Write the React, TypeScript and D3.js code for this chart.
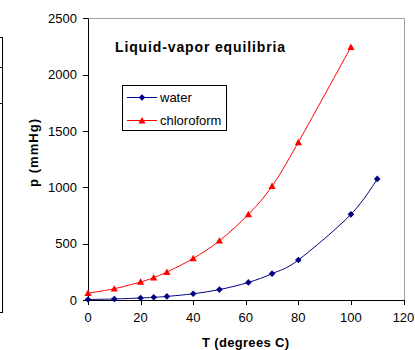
import React from "react";
import * as d3 from "d3";

const waterT = [0, 10, 20, 25, 30, 40, 50, 61, 70, 80, 100, 110];
const waterP = [4.6, 9.2, 17.5, 23.8, 31.8, 55.3, 92.5, 156, 233.7, 355.1, 760, 1074.6];
const chloroT = [0, 10, 20, 25, 30, 40, 50, 61, 70, 80, 100];
const chloroP = [61, 100, 160, 199, 248, 369, 526, 760, 1010, 1400, 2245];
const xTicks = [0, 20, 40, 60, 80, 100, 120];
const yTicks = [0, 500, 1000, 1500, 2000, 2500];
const seriesNames = ["water", "chloroform"];

const W = 415, H = 350;
const left = 88, right = 403.5, top = 18.3, bottom = 300;
const FONT = "Liberation Sans, Arial, sans-serif";

export default function App() {
  const x = d3.scaleLinear().domain([0, 120]).range([left, right]);
  const y = d3.scaleLinear().domain([0, 2500]).range([bottom, top]);
  const line = d3
    .line<[number, number]>()
    .x((d) => x(d[0]))
    .y((d) => y(d[1]))
    .curve(d3.curveCatmullRom.alpha(0));
  const water: [number, number][] = waterT.map((t, i) => [t, waterP[i]]);
  const chloro: [number, number][] = chloroT.map((t, i) => [t, chloroP[i]]);
  const diamond = (cx: number, cy: number, r = 3.3) =>
    `M${cx},${cy - r}L${cx + r},${cy}L${cx},${cy + r}L${cx - r},${cy}Z`;
  const tri = (cx: number, cy: number, r = 3.6) =>
    `M${cx},${cy - r}L${cx + r},${cy + r * 0.8}L${cx - r},${cy + r * 0.8}Z`;
  const px = (v: number) => Math.round(v) + 0.5;

  return (
    <svg
      width={W}
      height={H}
      style={{ position: "absolute", left: 0, top: 0, background: "#fff" }}
      fontFamily={FONT}
    >
      <rect x={0} y={0} width={W} height={H} fill="#fff" />
      {/* stray table fragment at left */}
      <g stroke="#000" strokeWidth={1}>
        <line x1={2.5} y1={37} x2={2.5} y2={312} />
        {[37, 67, 103, 312].map((v) => (
          <line key={v} x1={0} y1={v + 0.5} x2={3} y2={v + 0.5} />
        ))}
      </g>
      {/* plot frame */}
      <line x1={left} y1={px(top)} x2={px(right)} y2={px(top)} stroke="#a0a0a0" />
      <line x1={px(right)} y1={px(top)} x2={px(right)} y2={bottom} stroke="#a0a0a0" />
      {/* axes */}
      <line x1={px(left)} y1={px(top)} x2={px(left)} y2={px(bottom)} stroke="#000" />
      <line x1={left} y1={px(bottom)} x2={right + 1} y2={px(bottom)} stroke="#000" />
      {yTicks.map((t) => (
        <g key={"y" + t}>
          <line x1={left - 5} x2={left} y1={px(y(t))} y2={px(y(t))} stroke="#000" />
          <text x={77} y={y(t)} dy="0.35em" textAnchor="end" fontSize={13} fill="#000">
            {t}
          </text>
        </g>
      ))}
      {xTicks.map((t) => (
        <g key={"x" + t}>
          <line x1={px(x(t))} x2={px(x(t))} y1={bottom} y2={bottom + 5} stroke="#000" />
          <text x={x(t)} y={322} textAnchor="middle" fontSize={13} fill="#000">
            {t}
          </text>
        </g>
      ))}
      <text
        x={245.5}
        y={347}
        textAnchor="middle"
        fontSize={13}
        fontWeight="bold"
        fill="#000"
        textLength={87}
        lengthAdjust="spacing"
      >
        T (degrees C)
      </text>
      <text
        transform={`translate(38,153) rotate(-90)`}
        textAnchor="middle"
        fontSize={13}
        fontWeight="bold"
        fill="#000"
        textLength={68}
        lengthAdjust="spacing"
      >
        p (mmHg)
      </text>
      {/* series */}
      <path d={line(chloro) || ""} fill="none" stroke="#ff0000" strokeWidth={1} />
      <path d={line(water) || ""} fill="none" stroke="#000080" strokeWidth={1} />
      {chloro.map((d, i) => (
        <path key={"c" + i} d={tri(x(d[0]), y(d[1]))} fill="#ff0000" />
      ))}
      {water.map((d, i) => (
        <path key={"w" + i} d={diamond(x(d[0]), y(d[1]))} fill="#000080" />
      ))}
      {/* title */}
      <text
        x={115}
        y={52}
        fontSize={14}
        fontWeight="bold"
        fill="#000"
        textLength={170}
        lengthAdjust="spacing"
      >
        Liquid-vapor equilibria
      </text>
      {/* legend */}
      <rect x={122.5} y={85.5} width={104} height={45} fill="#fff" stroke="#000" />
      <line x1={127} x2={157} y1={97.5} y2={97.5} stroke="#000080" />
      <path d={diamond(142, 97.5)} fill="#000080" />
      <text x={160} y={97.5} dy="0.35em" fontSize={13} fill="#000">
        {seriesNames[0]}
      </text>
      <line x1={127} x2={157} y1={120.5} y2={120.5} stroke="#ff0000" />
      <path d={tri(142, 120.5)} fill="#ff0000" />
      <text x={160} y={120.5} dy="0.35em" fontSize={13} fill="#000">
        {seriesNames[1]}
      </text>
    </svg>
  );
}
